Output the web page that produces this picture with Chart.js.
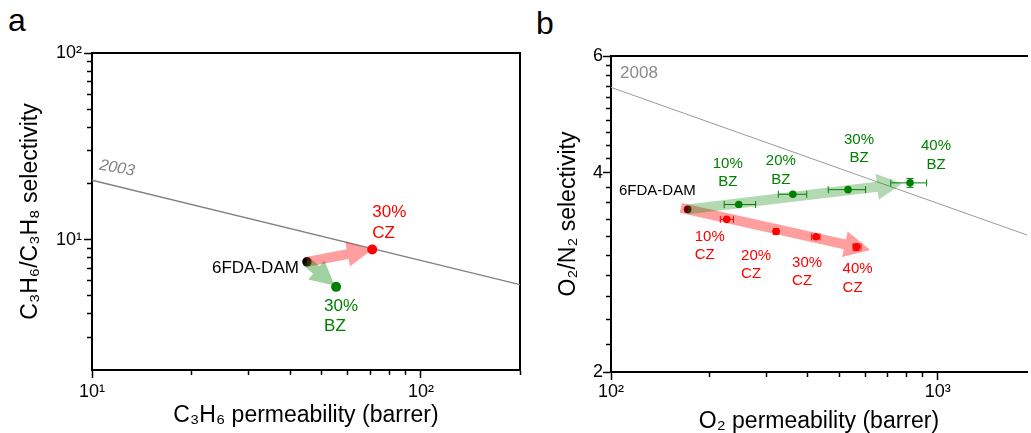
<!DOCTYPE html>
<html>
<head>
<meta charset="utf-8">
<script src="https://cdn.jsdelivr.net/npm/chart.js@4.4.1/dist/chart.umd.min.js"></script>
<style>
  html, body { margin: 0; padding: 0; background: #fff; width: 1031px; height: 433px; overflow: hidden; }
  #wa { position: absolute; left: 0; top: 0; width: 525px; height: 433px; }
  #wb { position: absolute; left: 525px; top: 0; width: 506px; height: 433px; }
  .panel { position: absolute; font-family: 'Liberation Sans', Arial, sans-serif; color: #000; font-size: 32px; line-height: 32px; }
</style>
</head>
<body>
<div class="panel" style="left:8px; top:4px;">a</div>
<div class="panel" style="left:536px; top:7px;">b</div>
<div id="wa"><canvas id="ca"></canvas></div>
<div id="wb"><canvas id="cb"></canvas></div>
<script>
// ---------------- Panel a : C3H6/C3H8 ----------------
const aDamPerm = [45.0];
const aDamSel  = [7.6];
const aCzPerm  = [71.1];
const aCzSel   = [8.85];
const aBzPerm  = [55.2];
const aBzSel   = [5.58];
const aBoundPerm = [10, 200];     // 2003 upper bound
const aBoundSel  = [20.8, 5.74];
const aXMajor = [10, 100];
const aXMinor = [20, 30, 40, 50, 60, 70, 80, 90, 200];
const aYMajor = [10, 100];
const aYMinor = [3, 4, 5, 6, 7, 8, 9, 20, 30, 40, 50, 60, 70, 80, 90];

// ---------------- Panel b : O2/N2 ----------------
const bLoadings = ['10%', '20%', '30%', '40%'];
const bDamPerm = [171.6];
const bDamSel  = [3.52];
const bBzPerm   = [246, 360, 531, 822];
const bBzSel    = [3.58, 3.71, 3.77, 3.86];
const bBzPermLo = [222, 325, 462, 718];
const bBzPermHi = [277, 397, 601, 924];
const bBzSelLo  = [null, null, null, 3.80];
const bBzSelHi  = [null, null, null, 3.92];
const bCzPerm   = [226, 320, 424, 564];
const bCzSel    = [3.40, 3.26, 3.20, 3.09];
const bCzPermLo = [216, 314, 411, 550];
const bCzPermHi = [237, 326, 436, 582];
const bCzSelLo  = [null, null, null, 3.05];
const bCzSelHi  = [null, null, null, 3.12];
const bBoundPerm = [100, 1874];   // 2008 upper bound
const bBoundSel  = [5.38, 3.22];
const bXMajor = [100, 1000];
const bXMinor = [200, 300, 400, 500, 600, 700, 800, 900];
const bYMajor = [2, 4, 6];
const bYMinor = [2.2, 2.4, 2.6, 2.8, 3.0, 3.2, 3.4, 3.6, 3.8, 4.2, 4.4, 4.6, 4.8, 5.0, 5.2, 5.4, 5.6, 5.8];

const FONT = "'Liberation Sans', Arial, 'DejaVu Sans', sans-serif";
const RED = '#ff0000', GREEN = '#008000';
const SUP = {'0':'\u2070','1':'\u00B9','2':'\u00B2','3':'\u00B3'};
const pow10Label = v => '10' + String(Math.round(Math.log10(v))).split('').map(c => SUP[c]).join('');

const pts = (xs, ys) => xs.map((x, i) => ({x: x, y: ys[i]}));
const tickList = (major, minor) => major.map(v => ({value: v, major: true}))
  .concat(minor.map(v => ({value: v, major: false})))
  .sort((p, q) => p.value - q.value);

function drawArrow(ctx, x0, y0, x1, y1, a) {
  const ang = Math.atan2(y1 - y0, x1 - x0);
  const ux = Math.cos(ang), uy = Math.sin(ang);
  const sx = x0 - ux * a.startExt, sy = y0 - uy * a.startExt;
  const ex = x1 + ux * a.endExt, ey = y1 + uy * a.endExt;
  const len = Math.hypot(ex - sx, ey - sy);
  ctx.save();
  ctx.translate(sx, sy);
  ctx.rotate(ang);
  ctx.beginPath();
  ctx.moveTo(0, -a.shaft / 2);
  ctx.lineTo(len - a.headL, -a.shaft / 2);
  ctx.lineTo(len - a.headL, -a.headW / 2);
  ctx.lineTo(len, 0);
  ctx.lineTo(len - a.headL, a.headW / 2);
  ctx.lineTo(len - a.headL, a.shaft / 2);
  ctx.lineTo(0, a.shaft / 2);
  ctx.closePath();
  ctx.fillStyle = a.color;
  ctx.fill();
  ctx.restore();
}

function decorPlugin(cfg) {
  return {
    id: 'decor',
    beforeDatasetDraw(chart, args) {
      const ctx = chart.ctx, xs = chart.scales.x, ys = chart.scales.y;
      (cfg.errorBars || []).forEach(eb => {
        if (eb.ds !== args.index) return;
        ctx.save();
        ctx.strokeStyle = eb.color;
        ctx.lineWidth = 1;
        eb.x.forEach((xv, i) => {
          const px = xs.getPixelForValue(xv), py = ys.getPixelForValue(eb.y[i]);
          ctx.beginPath();
          if (eb.xLo[i] != null) {
            const a = xs.getPixelForValue(eb.xLo[i]), b = xs.getPixelForValue(eb.xHi[i]);
            ctx.moveTo(a, py); ctx.lineTo(b, py);
            ctx.moveTo(a, py - 3.5); ctx.lineTo(a, py + 3.5);
            ctx.moveTo(b, py - 3.5); ctx.lineTo(b, py + 3.5);
          }
          if (eb.yLo[i] != null) {
            const a = ys.getPixelForValue(eb.yLo[i]), b = ys.getPixelForValue(eb.yHi[i]);
            ctx.moveTo(px, a); ctx.lineTo(px, b);
            ctx.moveTo(px - 3.5, a); ctx.lineTo(px + 3.5, a);
            ctx.moveTo(px - 3.5, b); ctx.lineTo(px + 3.5, b);
          }
          ctx.stroke();
        });
        ctx.restore();
      });
    },
    afterDatasetDraw(chart, args) {
      if (args.index !== cfg.arrowsAfterDs) return;
      const ctx = chart.ctx;
      cfg.arrows.forEach(a => {
        const p0 = chart.getDatasetMeta(a.from[0]).data[a.from[1]];
        const p1 = chart.getDatasetMeta(a.to[0]).data[a.to[1]];
        drawArrow(ctx, p0.x, p0.y, p1.x, p1.y, a);
      });
    },
    afterDraw(chart) {
      const ctx = chart.ctx;
      if (cfg.bound) {
        const b = cfg.bound;
        const p = chart.getDatasetMeta(b.ds).data[0];
        ctx.save();
        ctx.translate(p.x + b.dx, p.y + b.dy);
        ctx.rotate(b.rot * Math.PI / 180);
        ctx.font = (b.italic ? 'italic ' : '') + b.size + 'px ' + FONT;
        ctx.fillStyle = b.color;
        ctx.textAlign = 'center';
        ctx.textBaseline = 'middle';
        ctx.fillText(b.text, 0, 0);
        ctx.restore();
      }
      cfg.labels.forEach(l => {
        const p = chart.getDatasetMeta(l.ds).data[l.pt];
        ctx.save();
        ctx.font = l.size + 'px ' + FONT;
        ctx.fillStyle = l.color;
        ctx.textAlign = l.align;
        ctx.textBaseline = 'middle';
        l.lines.forEach((t, i) => ctx.fillText(t, p.x + l.dx, p.y + l.dy + i * l.gap));
        ctx.restore();
      });
    }
  };
}

const frameAxis = pos => ({
  type: 'linear', position: pos, min: 0, max: 1, display: true,
  grid: { display: true, drawOnChartArea: false, drawTicks: false },
  ticks: { display: false },
  border: { display: true, width: 2, color: '#000' }
});

function makeOptions(o) {
  const tickGrid = (isX) => ({
    display: true, drawOnChartArea: false, drawTicks: true, tickLength: 8,
    tickColor: '#000', tickWidth: 1.5, lineWidth: 1,
    tickBorderDash: c => (c.tick && c.tick.major) ? [] : (isX ? [4, 100] : [0, 3, 10, 100])
  });
  const scales = {
    x: {
      type: 'logarithmic', position: 'bottom', min: o.xMin, max: o.xMax,
      grid: tickGrid(true), border: { display: true, width: 2, color: '#000' },
      afterBuildTicks: s => { s.ticks = tickList(o.xMajor, o.xMinor); },
      afterFit: s => { s.height = o.xAxisH; },
      ticks: { autoSkip: false, maxRotation: 0, padding: o.xTickPad, color: '#000',
               font: { family: FONT, size: 18 },
               callback: v => o.xMajor.includes(v) ? o.xFmt(v) : '' },
      title: { display: true, text: o.xTitle, color: '#000',
               font: { family: FONT, size: 23, lineHeight: 1 }, padding: { top: 0, bottom: o.xTitlePad } }
    },
    y: {
      type: 'logarithmic', position: 'left', min: o.yMin, max: o.yMax,
      grid: tickGrid(false), border: { display: true, width: 2, color: '#000' },
      afterBuildTicks: s => { s.ticks = tickList(o.yMajor, o.yMinor); },
      afterFit: s => { s.width = o.yAxisW; },
      ticks: { autoSkip: false, padding: o.yTickPad, color: '#000',
               font: { family: FONT, size: 18 },
               callback: v => o.yMajor.includes(v) ? o.yFmt(v) : '' },
      title: { display: true, text: o.yTitle, color: '#000',
               font: { family: FONT, size: 23, lineHeight: 1 }, padding: { top: o.yTitlePad, bottom: 0 } }
    },
    xTop: frameAxis('top')
  };
  if (o.rightBorder) scales.yRight = frameAxis('right');
  return {
    responsive: true, maintainAspectRatio: false, animation: false, events: [],
    layout: { padding: o.padding },
    plugins: { legend: { display: false }, tooltip: { enabled: false } },
    scales: scales
  };
}

// ---------------- Chart a ----------------
new Chart(document.getElementById('ca'), {
  type: 'scatter',
  data: {
    datasets: [
      { data: pts(aBoundPerm, aBoundSel), showLine: true, borderColor: '#808080', borderWidth: 1.3, pointRadius: 0, order: 10 },
      { data: pts(aDamPerm, aDamSel), backgroundColor: '#000', borderWidth: 0, pointRadius: 4.7, order: 9 },
      { data: pts(aCzPerm, aCzSel), backgroundColor: RED, borderWidth: 0, pointRadius: 5, order: 2 },
      { data: pts(aBzPerm, aBzSel), backgroundColor: GREEN, borderWidth: 0, pointRadius: 5, order: 1 }
    ]
  },
  options: makeOptions({
    padding: { top: 53, right: 3, left: 0, bottom: 0 },
    xMin: 10, xMax: 200, yMin: 2, yMax: 100,
    xMajor: aXMajor, xMinor: aXMinor, yMajor: aYMajor, yMinor: aYMinor, rightBorder: true,
    xAxisH: 63, yAxisW: 92, xTickPad: 3, yTickPad: 2,
    xTitlePad: 6, yTitlePad: 19,
    xFmt: v => pow10Label(v), yFmt: v => pow10Label(v),
    xTitle: 'C\u2083H\u2086 permeability (barrer)',
    yTitle: 'C\u2083H\u2086/C\u2083H\u2088 selectivity'
  }),
  plugins: [decorPlugin({
    arrowsAfterDs: 1,
    arrows: [
      { from: [1, 0], to: [2, 0], startExt: 0, endExt: 0, shaft: 10, headW: 25, headL: 25, color: 'rgba(255,0,0,0.38)' },
      { from: [1, 0], to: [3, 0], startExt: 0, endExt: -2, shaft: 10, headW: 25, headL: 24, color: 'rgba(0,128,0,0.37)' }
    ],
    bound: { ds: 0, text: '2003', dx: 25, dy: -12, rot: 10, italic: true, size: 16, color: '#808080' },
    labels: [
      { ds: 1, pt: 0, lines: ['6FDA-DAM'], dx: -8, dy: 6, gap: 0, align: 'right', color: '#000', size: 17 },
      { ds: 2, pt: 0, lines: ['30%', 'CZ'], dx: 0, dy: -37, gap: 20.5, align: 'left', color: RED, size: 17 },
      { ds: 3, pt: 0, lines: ['30%', 'BZ'], dx: -12, dy: 19, gap: 20.5, align: 'left', color: GREEN, size: 17 }
    ]
  })]
});

// ---------------- Chart b ----------------
const bzOffsets = [[-11, -41], [-12, -33], [11, -50], [26, -37]];
const czOffsets = [[-32, 17], [-35, 24], [-24, 26], [-14, 22]];
new Chart(document.getElementById('cb'), {
  type: 'scatter',
  data: {
    datasets: [
      { data: pts(bBoundPerm, bBoundSel), showLine: true, borderColor: '#9a9a9a', borderWidth: 1, pointRadius: 0, order: 10 },
      { data: pts(bDamPerm, bDamSel), backgroundColor: '#000', borderWidth: 0, pointRadius: 3.8, order: 9 },
      { data: pts(bCzPerm, bCzSel), backgroundColor: RED, borderWidth: 0, pointRadius: 3.8, order: 2 },
      { data: pts(bBzPerm, bBzSel), backgroundColor: GREEN, borderWidth: 0, pointRadius: 3.8, order: 1 }
    ]
  },
  options: makeOptions({
    padding: { top: 56, right: 0, left: 0, bottom: 0 },
    xMin: 100, xMax: 1874, yMin: 2, yMax: 6,
    xMajor: bXMajor, xMinor: bXMinor, yMajor: bYMajor, yMinor: bYMinor, rightBorder: false,
    xAxisH: 61, yAxisW: 86, xTickPad: 1, yTickPad: 0,
    xTitlePad: 0, yTitlePad: 32,
    xFmt: v => pow10Label(v), yFmt: v => String(v),
    xTitle: 'O\u2082 permeability (barrer)',
    yTitle: 'O\u2082/N\u2082 selectivity'
  }),
  plugins: [decorPlugin({
    arrowsAfterDs: 1,
    arrows: [
      { from: [1, 0], to: [2, 3], startExt: 7, endExt: 14, shaft: 10, headW: 26, headL: 26, color: 'rgba(255,0,0,0.38)' },
      { from: [1, 0], to: [3, 3], startExt: 0, endExt: -8, shaft: 10, headW: 26, headL: 25, color: 'rgba(0,128,0,0.3)' }
    ],
    errorBars: [
      { ds: 3, color: GREEN, x: bBzPerm, y: bBzSel, xLo: bBzPermLo, xHi: bBzPermHi, yLo: bBzSelLo, yHi: bBzSelHi },
      { ds: 2, color: RED, x: bCzPerm, y: bCzSel, xLo: bCzPermLo, xHi: bCzPermHi, yLo: bCzSelLo, yHi: bCzSelHi }
    ],
    bound: { ds: 0, text: '2008', dx: 28, dy: -14, rot: 0, italic: false, size: 17, color: '#8a8a8a' },
    labels: [
      { ds: 1, pt: 0, lines: ['6FDA-DAM'], dx: 8, dy: -18.5, gap: 0, align: 'right', color: '#000', size: 15 }
    ].concat(
      bLoadings.map((t, i) => ({ ds: 3, pt: i, lines: [t, 'BZ'], dx: bzOffsets[i][0], dy: bzOffsets[i][1],
                                 gap: 18.5, align: 'center', color: GREEN, size: 15 })),
      bLoadings.map((t, i) => ({ ds: 2, pt: i, lines: [t, 'CZ'], dx: czOffsets[i][0], dy: czOffsets[i][1],
                                 gap: 18.5, align: 'left', color: RED, size: 15 }))
    )
  })]
});
</script>
</body>
</html>
